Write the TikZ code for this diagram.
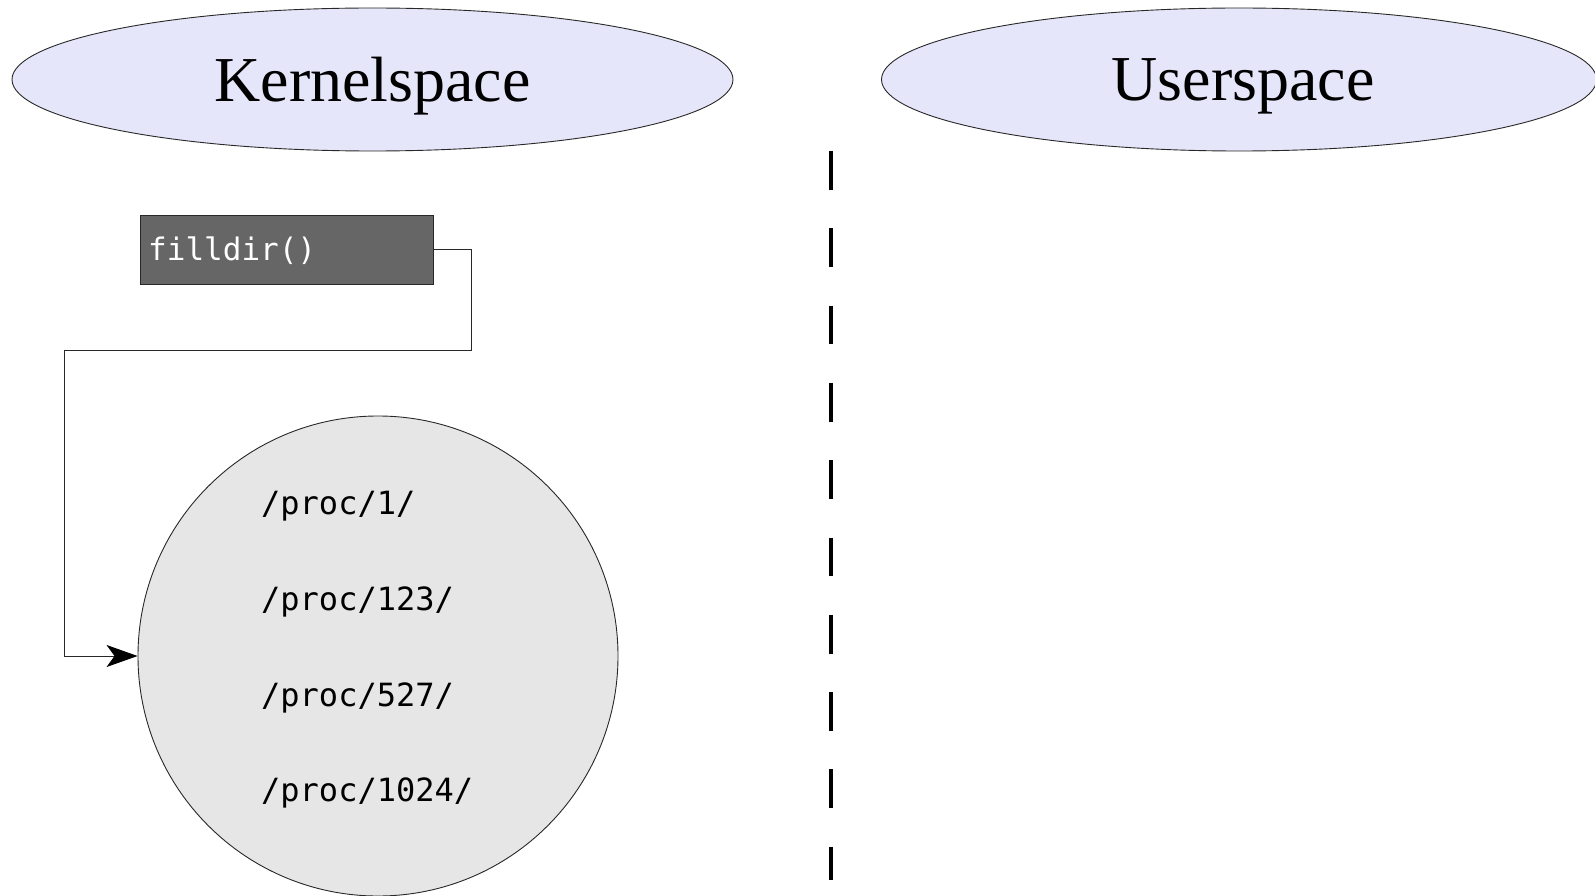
\documentclass[tikz,border=0pt]{standalone}
\usepackage{fontspec}
\setmainfont{Liberation Serif}
\newfontfamily\codefont{DejaVu Sans Mono}
\usetikzlibrary{shapes.geometric,arrows.meta}
\definecolor{spacefill}{RGB}{230,230,250}
\definecolor{setfill}{RGB}{230,230,230}
\definecolor{fnfill}{RGB}{102,102,102}
\definecolor{linecol}{RGB}{40,40,40}
\tikzset{
  spacelabel/.style={ellipse, draw=linecol, line width=0.9pt, fill=spacefill,
    inner sep=0pt, text depth=0pt, font=\fontsize{64}{70}\selectfont},
  fnbox/.style={rectangle, draw=linecol, line width=0.9pt, fill=fnfill,
    inner sep=0pt, minimum width=293pt, minimum height=69pt},
  fntext/.style={anchor=base west, inner sep=0pt, text=white,
    font=\codefont\fontsize{31}{36}\selectfont},
  dirset/.style={circle, draw=linecol, line width=0.9pt, fill=setfill,
    inner sep=0pt, minimum size=480pt},
  direntry/.style={anchor=base west, inner sep=0pt,
    font=\codefont\fontsize{32}{38}\selectfont},
  conn/.style={draw=linecol, line width=0.9pt,
    -{Stealth[length=31pt,width=22pt,inset=8pt,color=black]}},
  divider/.style={line width=4pt, dash pattern=on 38.7pt off 38.6pt}
}
\begin{document}
\begin{tikzpicture}[x=1pt,y=-1pt]
\useasboundingbox (0,0) rectangle (1595,896);

% the two address spaces
\node[spacelabel, minimum width=721pt, minimum height=143pt] (kernel) at (372.5,79.5) {Kernelspace};
\node[spacelabel, minimum width=715pt, minimum height=143pt] (user) at (1239,79.5) {\hspace{8pt}Userspace};

% boundary between them
\coordinate (divtop) at (831,151);
\coordinate (divbot) at (831,880);
\draw[divider] (divtop) -- (divbot);

% the kernel function
\node[fnbox] (fd) at (286.5,249.5) {};
\node[fntext] (fdlabel) at (148,260.5) {filldir()};

% the set of /proc entries
\node[dirset] (procset) at (378,656) {};
\node[direntry] (p1) at (261,514) {/proc/1/};
\node[direntry] (p123) at (261,610) {/proc/123/};
\node[direntry] (p527) at (261,706) {/proc/527/};
\node[direntry] (p1024) at (261,801) {/proc/1024/};

% connector from filldir() into the set
\coordinate (bendA) at (471,350);
\coordinate (bendB) at (64,350);
\draw[conn] (fd.east) -| (bendA) -- (bendB) |- (procset.west);
\end{tikzpicture}
\end{document}
